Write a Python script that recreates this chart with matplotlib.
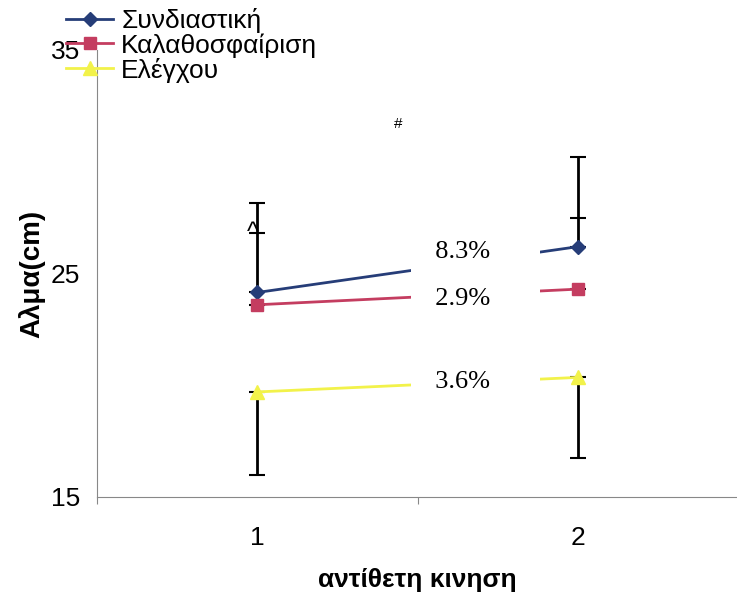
import matplotlib
matplotlib.use("Agg")
import matplotlib.pyplot as plt

# -----------------------------
# Daten
# -----------------------------
x_werte = [1, 2]
x_labels = ["1", "2"]

serien = ["Συνδιαστική", "Καλαθοσφαίριση", "Ελέγχου"]
synd = [24.15, 26.2]
kalath = [23.6, 24.3]
elegx = [19.7, 20.35]

synd_err = [4.0, 4.0]      # nur nach oben
kalath_err = [3.2, 3.2]    # nur nach oben (Kappe)
elegx_err = [3.7, 3.6]     # nur nach unten

prozent = ["8.3%", "2.9%", "3.6%"]
prozent_y = [25.95, 23.85, 20.15]

farben = ["#263d78", "#c43d60", "#f2f24a"]
marker = ["D", "s", "^"]

# -----------------------------
# Plot
# -----------------------------
plt.rcParams["font.family"] = ["Liberation Sans", "DejaVu Sans"]

fig = plt.figure(figsize=(7.37, 6.0), dpi=100)
ax = fig.add_axes([0.1316, 0.1717, 0.87, 0.745])

werte = [synd, kalath, elegx]
ms = [7, 9, 10]
for i, name in enumerate(serien):
    ax.plot(x_werte, werte[i], color=farben[i], lw=2, marker=marker[i],
            markersize=ms[i], label=name, zorder=3)

# Fehlerbalken (schwarz)
ax.errorbar(x_werte, synd, yerr=[[0, 0], synd_err], fmt="none",
            ecolor="black", elinewidth=2, capsize=6, capthick=1.5, zorder=2)
ax.errorbar(x_werte, kalath, yerr=[[0, 0], kalath_err], fmt="none",
            ecolor="black", elinewidth=0, capsize=6, capthick=1.5, zorder=2)
ax.errorbar(x_werte, elegx, yerr=[elegx_err, [0, 0]], fmt="none",
            ecolor="black", elinewidth=2, capsize=6, capthick=1.5, zorder=2)

# Prozentangaben mit weissem Kasten
for txt, y in zip(prozent, prozent_y):
    ax.text(1.5125, y, "  " + txt + "      ", ha="left", va="center",
            fontsize=19, family=["Liberation Serif", "DejaVu Serif"],
            bbox=dict(boxstyle="square,pad=0.4", fc="white", ec="none"),
            zorder=4)

ax.text(1.44, 31.7, "#", ha="center", va="center", fontsize=11, zorder=5)
ax.text(0.985, 26.8, "^", ha="center", va="center", fontsize=18, zorder=5)

ax.set_xlim(0.5, 2.5)
ax.set_ylim(15, 35)
ax.set_xticks([0.5, 1.5, 2.5], minor=False)
ax.set_xticks(x_werte, minor=True)
ax.set_xticklabels([])
ax.set_xticklabels(x_labels, minor=True)
ax.tick_params(axis="x", which="major", length=5, color="#888888")
ax.tick_params(axis="x", which="minor", length=0, labelsize=19, pad=21)
ax.set_yticks([15, 25, 35])
ax.tick_params(axis="y", length=0, labelsize=19, pad=12)

for s in ["top", "right"]:
    ax.spines[s].set_visible(False)
ax.spines["left"].set_color("#888888")
ax.spines["bottom"].set_color("#888888")

ax.set_ylabel("Αλμα(cm)", fontsize=20, fontweight="bold", labelpad=4)
ax.set_xlabel("αντίθετη κινηση", fontsize=19, fontweight="bold", labelpad=13)

fig.legend(loc="upper left", bbox_to_anchor=(0.075, 1.004), frameon=False,
           fontsize=19, handlelength=1.8, handletextpad=0.3,
           labelspacing=0.0, borderaxespad=0)

fig.savefig("out.png", dpi=100)
